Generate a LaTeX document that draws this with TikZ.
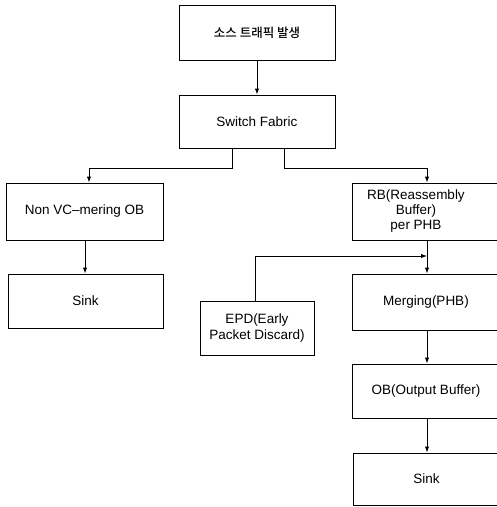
\documentclass[tikz,border=0pt]{standalone}
\usepackage{fontspec}
\setmainfont{Liberation Sans}
\newfontfamily\kofont{Noto Sans CJK KR Medium}
\usetikzlibrary{arrows.meta}
\begin{document}
\begin{tikzpicture}[x=1pt,y=-1pt,
  box/.style={draw,line width=1pt,inner sep=0pt,align=center,font=\fontsize{13.5}{15.5}\selectfont},
  arr/.style={line width=1pt,-{Latex[length=6pt,width=4.5pt]}}]
\useasboundingbox (0,0) rectangle (497,507);
\clip (0,0) rectangle (497,507);
\node[box,minimum width=156pt,minimum height=55pt] (src) at (257,32.5) {\kofont\fontsize{12.5}{15}\selectfont 소스 트래픽 발생};
\node[box,minimum width=156pt,minimum height=53pt] (sf) at (257,121.5) {Switch Fabric};
\node[box,minimum width=157pt,minimum height=57pt] (nvc) at (84.5,211.5) {Non VC--mering OB};
\node[box,minimum width=155pt,minimum height=54pt] (sink1) at (85.5,301) {Sink};
\node[box,minimum width=148pt,minimum height=57pt] (rb) at (426,211.5) {\renewcommand{\arraystretch}{0.97}\begin{tabular}{@{}c@{}}RB(Reassembly\\Buffer)\\per PHB\end{tabular}\hspace*{20pt}};
\node[box,minimum width=114pt,minimum height=54pt] (epd) at (257,328) {EPD(Early\\Packet Discard)};
\node[box,minimum width=148pt,minimum height=56pt] (merg) at (426,302) {Merging(PHB)};
\node[box,minimum width=148pt,minimum height=54pt] (ob) at (426,391) {OB(Output Buffer)};
\node[box,minimum width=147pt,minimum height=52pt] (sink2) at (426.5,479) {Sink};
\coordinate (jl) at (89,168);
\coordinate (jr) at (427,168);
\coordinate (mj) at (427,256);
\draw[arr] (src) -- (sf);
\draw[arr] ([xshift=-25pt]sf.south) |- (jl) -- (jl |- nvc.north);
\draw[arr] ([xshift=27pt]sf.south) |- (jr) -- (jr |- rb.north);
\draw[arr] (nvc.south -| 85,0) -- (sink1.north -| 85,0);
\draw[arr] (rb.south -| 427,0) -- (merg.north -| 427,0);
\draw[arr] ([xshift=-2pt]epd.north) |- (mj);
\draw[arr] (merg.south -| 427,0) -- (ob.north -| 427,0);
\draw[arr] (ob.south -| 427,0) -- (sink2.north -| 427,0);
\end{tikzpicture}
\end{document}
